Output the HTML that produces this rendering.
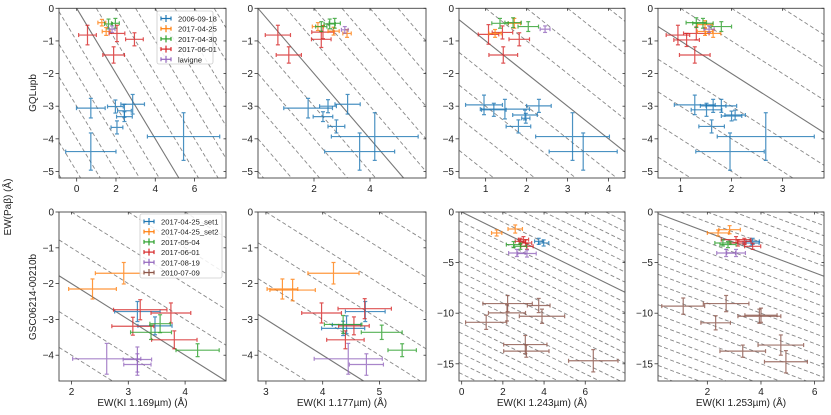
<!DOCTYPE html>
<html><head><meta charset="utf-8">
<style>
html,body{margin:0;padding:0;background:#fff;width:831px;height:415px;overflow:hidden;}
svg{display:block;font-family:"Liberation Sans","DejaVu Sans",sans-serif;}
</style></head>
<body>
<svg id="chart" width="831" height="415" viewBox="0 0 831 415"></svg>
<script>
const seriesColors = ["#1f77b4","#ff7f0e","#2ca02c","#d62728","#9467bd","#8c564b"];
const legendTop = ["2006-09-18","2017-04-25","2017-04-30","2017-06-01","lavigne"];
const legendBottom = ["2017-04-25_set1","2017-04-25_set2","2017-05-04","2017-06-01","2017-08-19","2010-07-09"];
const xLabels = ["EW(KI 1.169\u00b5m) (\u00c5)","EW(KI 1.177\u00b5m) (\u00c5)","EW(KI 1.243\u00b5m) (\u00c5)","EW(KI 1.253\u00b5m) (\u00c5)"];
// each point: [x, y, xerr, yerr, seriesIndex]
const panel1 = [[0.72,-3.06,0.73,0.3,0],[0.72,-4.39,1.28,0.57,0],[1.97,-3.01,0.4,0.2,0],[2.85,-2.94,0.6,0.3,0],[2.43,-3.14,0.35,0.2,0],[2.43,-3.32,0.4,0.15,0],[2.05,-3.65,0.3,0.2,0],[5.44,-3.93,1.84,0.73,0],
 [1.28,-0.44,0.2,0.1,1],[1.5,-0.71,0.2,0.12,1],[1.62,-0.48,0.2,0.15,2],[1.97,-0.46,0.2,0.15,2],[1.8,-0.64,0.15,0.1,4],
 [0.55,-0.82,0.45,0.3,3],[2.05,-0.77,0.4,0.25,3],[2.94,-0.95,0.45,0.2,3],[1.88,-1.43,0.55,0.25,3]];
const panel2 = [[1.79,-3.06,0.87,0.3,0],[2.5,-3.0,0.3,0.2,0],[3.2,-2.94,0.45,0.3,0],[2.32,-3.32,0.35,0.15,0],[2.8,-3.62,0.3,0.2,0],[4.17,-3.93,1.55,0.73,0],[3.63,-4.39,1.25,0.57,0],
 [0.71,-0.82,0.45,0.3,3],[1.1,-1.43,0.45,0.25,3],[2.32,-0.73,0.4,0.2,3],[2.26,-0.95,0.35,0.25,3],
 [2.14,-0.56,0.2,0.12,1],[3.18,-0.77,0.15,0.12,1],[2.7,-0.7,0.2,0.12,1],
 [2.26,-0.56,0.2,0.15,2],[2.56,-0.48,0.2,0.15,2],[2.74,-0.46,0.2,0.15,2],[3.1,-0.66,0.12,0.1,4]];
const panel3 = [[0.96,-2.96,0.45,0.3,0],[1.2,-3.11,0.3,0.2,0],[1.47,-3.09,0.6,0.3,0],[1.96,-3.27,0.3,0.15,0],[1.98,-3.37,0.1,0.15,0],[2.3,-2.99,0.3,0.2,0],[1.8,-3.62,0.3,0.2,0],[3.12,-3.93,0.9,0.73,0],[3.38,-4.39,0.83,0.57,0],
 [1.07,-0.8,0.25,0.3,3],[1.41,-0.74,0.25,0.2,3],[1.82,-0.95,0.25,0.2,3],[1.43,-1.43,0.35,0.25,3],
 [1.23,-0.77,0.15,0.12,1],[1.7,-0.46,0.15,0.15,1],
 [1.35,-0.46,0.2,0.15,2],[1.67,-0.44,0.2,0.15,2],[2.04,-0.56,0.25,0.15,2],[2.45,-0.64,0.12,0.1,4]];
const panel4 = [[1.28,-2.96,0.4,0.3,0],[1.64,-2.99,0.25,0.2,0],[1.8,-2.99,0.3,0.2,0],[1.51,-3.11,0.3,0.2,0],[2.07,-3.27,0.2,0.15,0],[2.0,-3.3,0.2,0.15,0],[1.61,-3.62,0.25,0.2,0],[2.67,-3.93,0.95,0.73,0],[1.97,-4.39,0.67,0.57,0],
 [0.95,-0.82,0.23,0.3,3],[1.12,-0.97,0.25,0.2,3],[1.31,-0.77,0.25,0.2,3],[1.28,-1.43,0.3,0.25,3],
 [1.48,-0.71,0.15,0.12,1],[1.64,-0.77,0.15,0.12,1],[1.48,-0.5,0.15,0.12,1],
 [1.31,-0.44,0.2,0.15,2],[1.44,-0.46,0.2,0.15,2],[1.8,-0.56,0.2,0.15,2],[1.56,-0.64,0.1,0.1,4]];
const panel5 = [[2.37,-2.15,0.42,0.28,1],[2.92,-1.71,0.5,0.3,1],
 [3.16,-2.78,0.4,0.28,0],[3.47,-3.18,0.3,0.25,0],
 [3.21,-2.73,0.47,0.28,3],[3.75,-2.82,0.35,0.28,3],[3.08,-3.19,0.37,0.25,3],[3.81,-3.57,0.4,0.25,3],
 [3.56,-3.12,0.18,0.25,2],[3.4,-3.36,0.36,0.2,2],[4.22,-3.86,0.38,0.18,2],
 [2.62,-4.1,0.6,0.43,4],[3.16,-4.12,0.25,0.35,4],[3.16,-4.26,0.24,0.3,4]];
const panel6 = [[3.29,-2.15,0.27,0.28,1],[3.47,-2.18,0.4,0.3,1],[4.19,-1.71,0.45,0.3,1],
 [4.75,-2.78,0.35,0.28,0],[4.42,-3.15,0.25,0.25,0],[4.36,-3.25,0.38,0.2,0],
 [3.98,-2.82,0.35,0.28,3],[4.74,-2.7,0.47,0.28,3],[4.55,-3.18,0.27,0.25,3],[4.4,-3.57,0.33,0.25,3],
 [4.36,-3.14,0.33,0.25,2],[5.04,-3.36,0.36,0.2,2],[5.4,-3.86,0.25,0.18,2],
 [4.45,-4.1,0.6,0.43,4],[4.77,-4.26,0.3,0.3,4]];
const panel7 = [[1.7,-2.07,0.25,0.3,1],[2.6,-1.68,0.35,0.4,1],
 [3.74,-2.9,0.2,0.3,0],[3.98,-3.06,0.25,0.3,0],
 [3.0,-2.73,0.25,0.3,3],[3.1,-3.06,0.3,0.3,3],[3.17,-3.39,0.3,0.3,3],[2.85,-2.9,0.25,0.3,3],
 [2.52,-3.22,0.35,0.3,2],[2.85,-3.39,0.3,0.3,2],
 [2.68,-4.05,0.4,0.35,4],[3.17,-4.1,0.45,0.35,4],
 [2.23,-9.05,1.2,0.8,5],[3.74,-9.24,0.55,0.7,5],[2.2,-9.97,0.9,0.8,5],[3.9,-10.3,1.1,0.7,5],[1.19,-10.9,1.0,0.7,5],[3.09,-13.1,1.05,0.9,5],[3.14,-13.75,1.1,0.6,5],[6.39,-14.7,1.2,1.1,5]];
const panel8 = [[2.4,-2.07,0.4,0.3,1],[2.83,-1.75,0.4,0.4,1],
 [3.69,-2.9,0.25,0.3,0],[3.63,-3.06,0.3,0.3,0],
 [3.07,-2.73,0.55,0.3,3],[3.38,-2.9,0.25,0.3,3],[3.69,-3.39,0.3,0.3,3],[3.14,-3.06,0.3,0.3,3],
 [2.58,-3.06,0.3,0.3,2],[2.77,-3.22,0.3,0.3,2],
 [2.7,-4.05,0.35,0.35,4],[3.07,-4.05,0.35,0.35,4],
 [1.1,-9.3,0.8,0.8,5],[2.7,-9.05,0.85,0.8,5],[2.31,-10.95,0.55,0.7,5],[4.0,-10.2,0.6,0.7,5],[3.94,-10.3,0.8,0.7,5],[3.32,-13.75,0.85,0.6,5],[4.74,-13.15,0.85,1.0,5],[4.93,-14.8,0.8,1.1,5]];
const xTicks = [[0,2,4,6],[2,4],[1,2,3,4],[1,2,3],[2,3,4],[3,4,5],[0,2,4,6],[2,4,6]];
const yTicksTop = [0,-1,-2,-3,-4,-5];
const yTicksBottomA = [0,-1,-2,-3,-4];
const yTicksBottomB = [0,-5,-10,-15];

const NS="http://www.w3.org/2000/svg";
const svg=document.getElementById('chart');
function mk(tag,attrs,parent){const e=document.createElementNS(NS,tag);for(const k in attrs)e.setAttribute(k,attrs[k]);(parent||svg).appendChild(e);return e;}

const panels=[
 {data:panel1,px:[59,226],py:[8.3,178],xd:[-0.9,7.6],yd:[0,-5.2],xt:xTicks[0],yt:yTicksTop},
 {data:panel2,px:[258,426],py:[8.3,178],xd:[0,6.0],yd:[0,-5.2],xt:xTicks[1],yt:yTicksTop},
 {data:panel3,px:[459,625],py:[8.3,178],xd:[0.35,4.4],yd:[0,-5.2],xt:xTicks[2],yt:yTicksTop},
 {data:panel4,px:[658,824],py:[8.3,178],xd:[0.56,3.81],yd:[0,-5.2],xt:xTicks[3],yt:yTicksTop},
 {data:panel5,px:[59,226],py:[212,381],xd:[1.78,4.72],yd:[0,-4.72],xt:xTicks[4],yt:yTicksBottomA},
 {data:panel6,px:[258,426],py:[212,381],xd:[2.86,5.82],yd:[0,-4.72],xt:xTicks[5],yt:yTicksBottomA},
 {data:panel7,px:[459,625],py:[212,381],xd:[-0.13,7.93],yd:[0,-16.7],xt:xTicks[6],yt:yTicksBottomB},
 {data:panel8,px:[658,824],py:[212,381],xd:[0.16,6.35],yd:[0,-16.7],xt:xTicks[7],yt:yTicksBottomB}
];

panels.forEach((p,i)=>{
  const g=mk('g',{});
  
  
  const sx=v=>p.px[0]+(v-p.xd[0])/(p.xd[1]-p.xd[0])*(p.px[1]-p.px[0]);
  const sy=v=>p.py[0]+(v-p.yd[0])/(p.yd[1]-p.yd[0])*(p.py[1]-p.py[0]);
  const xmin=p.xd[0],xmax=p.xd[1],ymax=p.yd[0],ymin=p.yd[1];
  const lg=mk('g',{},g);
  for(let k=-25;k<=15;k++){
    const lo=Math.max(xmin,k-ymax),hi=Math.min(xmax,k-ymin);
    if(hi-lo<=0.001) continue;
    const l=mk('line',{x1:sx(lo),y1:sy(-lo+k),x2:sx(hi),y2:sy(-hi+k),stroke:k===0?'#777':'#888','stroke-width':k===0?1.1:0.9,'stroke-dasharray':k===0?'none':'4,2.5'},lg);
    
    
  }
  p.data.forEach(d=>{
    const c=seriesColors[d[4]];
    const pg=mk('g',{stroke:c,'stroke-width':1.2,opacity:0.8},lg);
    
    
    const cx=sx(d[0]),cy=sy(d[1]);
    const xlv=d[0]-d[2],xrv=d[0]+d[2],ytv=d[1]+d[3],ybv=d[1]-d[3];
    const xl=sx(Math.max(xlv,xmin)),xr=sx(Math.min(xrv,xmax)),yt=sy(Math.min(ytv,ymax)),yb=sy(Math.max(ybv,ymin));
    mk('line',{x1:xl,y1:cy,x2:xr,y2:cy},pg);
    mk('line',{x1:cx,y1:yt,x2:cx,y2:yb},pg);
    if(xlv>=xmin) mk('line',{x1:xl,y1:cy-2,x2:xl,y2:cy+2},pg);
    if(xrv<=xmax) mk('line',{x1:xr,y1:cy-2,x2:xr,y2:cy+2},pg);
    if(ytv<=ymax) mk('line',{x1:cx-2,y1:yt,x2:cx+2,y2:yt},pg);
    if(ybv>=ymin) mk('line',{x1:cx-2,y1:yb,x2:cx+2,y2:yb},pg);
  });
  const fr=mk('rect',{x:p.px[0],y:p.py[0],width:p.px[1]-p.px[0],height:p.py[1]-p.py[0],fill:'none',stroke:'#444','stroke-width':0.9},g);
  
  
  p.xt.forEach(t=>{
    const x=sx(t);
    mk('line',{x1:x,y1:p.py[1],x2:x,y2:p.py[1]+3.5,stroke:'#333','stroke-width':0.8},g);
    mk('line',{x1:x,y1:p.py[0],x2:x,y2:p.py[0]+2.5,stroke:'#333','stroke-width':0.8},g);
    const tx=mk('text',{x:x,y:p.py[1]+14,'text-anchor':'middle','font-size':10,fill:'#222'},g);
    tx.textContent=t;
    
    
  });
  p.yt.forEach(t=>{
    const y=sy(t);
    mk('line',{x1:p.px[0]-3.5,y1:y,x2:p.px[0],y2:y,stroke:'#333','stroke-width':0.8},g);
    mk('line',{x1:p.px[1]-2.5,y1:y,x2:p.px[1],y2:y,stroke:'#333','stroke-width':0.8},g);
    const ty=mk('text',{x:p.px[0]-5,y:y+3.5,'text-anchor':'end','font-size':10,fill:'#222'},g);
    ty.textContent=t===0?'0':'\u2212'+Math.abs(t);
    
    
  });
  if(i>=4){
    const xl=mk('text',{x:(p.px[0]+p.px[1])/2,y:406,'text-anchor':'middle','font-size':10,fill:'#222'},g);
    xl.textContent=xLabels[i-4];
    
    
  }
});

function legend(entries,x,y,w,h,name){
  const g=mk('g',{});
  
  
  mk('rect',{x:x,y:y,width:w,height:h,rx:2,fill:'#fff','fill-opacity':0.85,stroke:'#ccc','stroke-width':0.8},g);
  entries.forEach((e,i)=>{
    const cy=y+7.5+i*10.2,cx=x+9;
    const eg=mk('g',{stroke:seriesColors[i],'stroke-width':1.2},g);
    
    
    mk('line',{x1:cx-5,y1:cy,x2:cx+5,y2:cy},eg);
    mk('line',{x1:cx,y1:cy-3.5,x2:cx,y2:cy+3.5},eg);
    mk('line',{x1:cx-5,y1:cy-2,x2:cx-5,y2:cy+2},eg);
    mk('line',{x1:cx+5,y1:cy-2,x2:cx+5,y2:cy+2},eg);
    const t=mk('text',{x:x+21,y:cy+3,'font-size':7.6,fill:'#222'},g);
    t.textContent=e;
  });
}
legend(legendTop,157,11,56,53,'legend-top');
legend(legendBottom,140,214,82,64,'legend-bottom');

function vtext(txt,x,y,name,size){
  const t=mk('text',{x:x,y:y,'text-anchor':'middle','font-size':size,fill:'#222',transform:'rotate(-90 '+x+' '+y+')'});
  t.textContent=txt;
  
  
}
vtext('GQLupb',36,93,'row-label-gqlupb',10);
vtext('GSC06214-00210b',36,297,'row-label-gsc06214',10);
vtext('EW(Pa\u03b2) (\u00c5)',11,207,'y-axis-title',10);
</script>
</body></html>
